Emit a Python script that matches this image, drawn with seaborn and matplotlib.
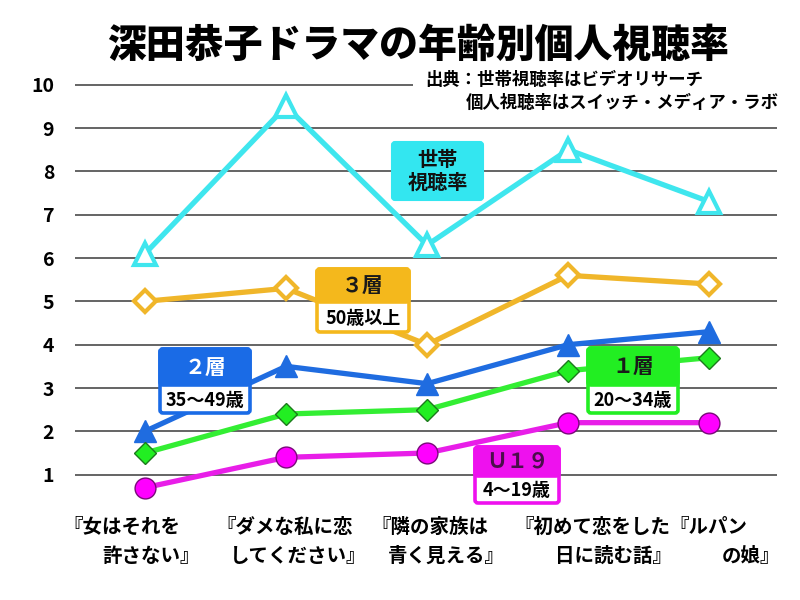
import numpy as np
import pandas as pd
import matplotlib
matplotlib.use("Agg")
import matplotlib.pyplot as plt
import seaborn as sns
from matplotlib.patches import FancyBboxPatch, Rectangle

# ---------------- data ----------------
dramas = ["『女はそれを\n許さない』", "『ダメな私に恋\nしてください』", "『隣の家族は\n青く見える』",
          "『初めて恋をした\n日に読む話』", "『ルパン\nの娘』"]
household = [6.1, 9.5, 6.3, 8.5, 7.3]    # 世帯視聴率
layer3 = [5.0, 5.3, 4.0, 5.6, 5.4]       # 3層 50歳以上
layer2 = [2.0, 3.5, 3.1, 4.0, 4.3]       # 2層 35~49歳
layer1 = [1.5, 2.4, 2.5, 3.4, 3.7]       # 1層 20~34歳
u19 = [0.7, 1.4, 1.5, 2.2, 2.2]          # U19 4~19歳
yticks = [1, 2, 3, 4, 5, 6, 7, 8, 9, 10]

title = "深田恭子ドラマの年齢別個人視聴率"
source1 = "出典：世帯視聴率はビデオリサーチ"
source2 = "個人視聴率はスイッチ・メディア・ラボ"

# ---------------- style ----------------
sns.set_theme(style="white")
plt.rcParams['font.family'] = ['Noto Sans CJK JP', 'DejaVu Sans']

W, H = 800, 600
fig = plt.figure(figsize=(8, 6), dpi=100)
fig.patch.set_facecolor("white")

# axes placed in pixel layout
ax_left, ax_right, ax_top, ax_bottom = 75, 777, 76, 518
ax = fig.add_axes([ax_left / W, 1 - ax_bottom / H, (ax_right - ax_left) / W, (ax_bottom - ax_top) / H])

x = np.arange(len(dramas))
series = [
    (household, "#3FE6EE", "^", 15.5, "white", "#3FE6EE", 3.0),
    (layer3, "#F0B62A", "D", 11.5, "white", "#F0B62A", 3.0),
    (layer2, "#1F6CE0", "^", 16, "#1F6CE0", "#1F6CE0", 1.0),
    (layer1, "#33EE33", "D", 11.5, "#22EE22", "#1C7A1C", 1.0),
    (u19, "#E81EE8", "o", 15, "#FF00FF", "#7A0A7A", 1.0),
]
for vals, col, mk, ms, mfc, mec, mew in series:
    df = pd.DataFrame({"x": x, "y": vals})
    sns.lineplot(data=df, x="x", y="y", ax=ax, color=col, lw=3.8, marker=mk,
                 markersize=ms, markerfacecolor=mfc, markeredgecolor=mec,
                 markeredgewidth=mew, zorder=3)

ax.set_xlim(-0.496, 4.48)
ax.set_ylim(0, 10.2)
ax.set_yticks(yticks)
ax.set_yticklabels([str(t) for t in yticks], fontsize=14, fontweight="bold", color="black")
ax.set_xticks(x)
ax.set_xticklabels([""] * len(x))
ax.tick_params(axis="both", length=0)
ax.tick_params(axis="y", pad=15)
ax.set_xlabel("")
ax.set_ylabel("")
ax.yaxis.grid(True, color="#3a3a3a", lw=1.1)
ax.xaxis.grid(False)
ax.set_axisbelow(True)
for s in ax.spines.values():
    s.set_visible(False)

# x labels: first line left aligned, second line right aligned (offsets in px)
lab_start = [-82, -70, -56, -54, -40]
lab_end = [55, 80, 78, 104, 71]
unit_px = (ax_right - ax_left) / (4.48 + 0.496)
for i, lab in enumerate(dramas):
    l1, l2 = lab.split("\n")
    ax.text(x[i] + lab_start[i] / unit_px, -(527 - ax_bottom) / (ax_bottom - ax_top), l1,
            transform=ax.get_xaxis_transform(), ha="left", va="center",
            fontsize=14, fontweight="bold", color="black")
    ax.text(x[i] + lab_end[i] / unit_px, -(556 - ax_bottom) / (ax_bottom - ax_top), l2,
            transform=ax.get_xaxis_transform(), ha="right", va="center",
            fontsize=14, fontweight="bold", color="black")

# ---------------- texts / annotations ----------------
def fx(px):
    return px / W

def fy(py):
    return 1 - py / H

fig.text(fx(418), fy(45), title, ha="center", va="center", fontsize=28,
         fontweight="heavy", color="black")

# white mask hiding gridline 10 behind the source note
fig.add_artist(Rectangle((413 / 100, (H - 95) / 100), 380 / 100, 20 / 100,
                         transform=fig.dpi_scale_trans, fc="white", ec="none", zorder=4))
fig.text(fx(425), fy(80), source1, ha="left", va="center", fontsize=12.5,
         fontweight="bold", color="black", zorder=6)
fig.text(fx(779), fy(103), source2, ha="right", va="center", fontsize=12.5,
         fontweight="bold", color="black", zorder=6)


def rbox(x0, y0, x1, y1, fc, ec, lw, z):
    p = FancyBboxPatch((x0 / 100, (H - y1) / 100), (x1 - x0) / 100, (y1 - y0) / 100,
                       boxstyle="round,pad=0,rounding_size=0.03", fc=fc, ec=ec, lw=lw,
                       transform=fig.dpi_scale_trans, zorder=z)
    fig.add_artist(p)


def tag(x0, y0, ym, x1, y1, color, head, head_color, sub):
    rbox(x0, y0, x1, y1, "white", color, 2.6, 5)
    rbox(x0, y0, x1, ym, color, color, 2.6, 5.1)
    fig.text(fx((x0 + x1) / 2), fy((y0 + ym) / 2), head, ha="center", va="center",
             fontsize=15, fontweight="bold", color=head_color, zorder=6)
    fig.text(fx((x0 + x1) / 2), fy((ym + y1) / 2 + 1), sub, ha="center", va="center",
             fontsize=13, fontweight="bold", color="black", zorder=6)


# 世帯視聴率 box
rbox(392, 142, 483, 200, "#33E6F0", "#33E6F0", 1.5, 5)
fig.text(fx(437.5), fy(171), "世帯\n視聴率", ha="center", va="center", fontsize=14.5,
         fontweight="bold", color="#111111", linespacing=1.15, zorder=6)

tag(317, 269, 302, 409, 332, "#F4B81C", "３層", "#1a1a1a", "50歳以上")
tag(160, 349, 385, 250, 413, "#1A6BE6", "２層", "white", "35～49歳")
tag(588, 348, 385, 678, 413, "#22EE22", "１層", "#1a1a1a", "20～34歳")
tag(475, 447, 476, 559, 503, "#EE11EE", "Ｕ１９", "#4A0E4A", "4～19歳")

fig.savefig("out.png", dpi=100)
